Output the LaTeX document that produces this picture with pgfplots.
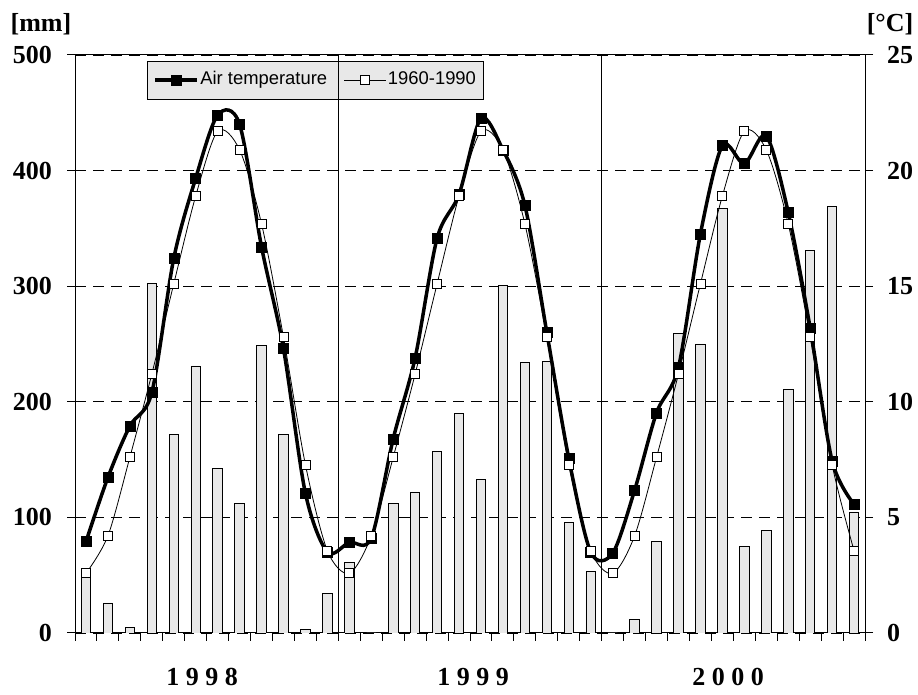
\documentclass[border=0pt]{standalone}
\usepackage{pgfplots}
\usepackage{pgfplotstable}
\pgfplotsset{compat=1.18}
\usepackage{fontspec}
\setmainfont{Liberation Serif}
\newfontfamily\arial{Liberation Sans}
\definecolor{barfill}{gray}{0.91}
\definecolor{legfill}{gray}{0.91}
\newcommand\bigbold{\bfseries\fontsize{26}{30}\selectfont}

% month index, precipitation [mm], air temperature [C], 1960-1990 mean [C]
\pgfplotstableread{
m  rain  air    norm
1  55    3.95   2.58
2  26    6.73   4.2
3  5     8.95   7.6
4  302   10.4   11.2
5  172   16.2   15.1
6  231   19.67  18.9
7  142   22.4   21.7
8  112   22.0   20.9
9  249   16.7   17.7
10 172   12.3   12.8
11 3     6.04   7.28
12 34    3.5    3.56
13 61    3.92   2.58
14 0     4.1    4.2
15 112   8.4    7.6
16 122   11.9   11.2
17 157   17.07  15.1
18 190   18.97  18.9
19 133   22.26  21.7
20 301   20.9   20.9
21 234   18.5   17.7
22 235   13.0   12.8
23 96    7.56   7.28
24 53    3.5    3.56
25 0     3.45   2.58
26 12    6.17   4.2
27 79    9.52   7.6
28 259   11.5   11.2
29 250   17.26  15.1
30 367   21.08  18.9
31 75    20.3   21.7
32 89    21.5   20.9
33 211   18.2   17.7
34 331   13.2   12.8
35 369   7.45   7.28
36 104   5.57   3.56
}\climate

\begin{document}
\begin{tikzpicture}
\path[use as bounding box] (0,0) rectangle (918pt,695pt);

\pgfplotsset{
  frame/.style={
    scale only axis, width=790pt, height=578pt,
    at={(75pt,62pt)}, anchor=south west,
    xmin=0.5, xmax=36.5,
    /pgf/number format/assume math mode=true,
    axis line style={black, line width=1pt},
    tick style={black, line width=1pt},
    tick align=outside,
    major tick length=8pt,
  },
}

% precipitation bars, left axis
\begin{axis}[frame,
  ymin=0, ymax=500,
  ytick={0,100,...,500},
  xtick={0.5,1.5,...,36.5}, xticklabels={},
  xtick pos=left, ytick pos=left,
  yticklabel style={font=\bigbold, anchor=east, inner sep=0pt, xshift=-15pt},
  ymajorgrids,
  major grid style={black, line width=0.8pt, dash pattern=on 11pt off 7pt},
]
\addplot[ybar, bar width=9.5pt, fill=barfill, draw=black, line width=0.8pt]
  table[x=m, y=rain] {\climate};
\end{axis}

% temperature lines, right axis
\begin{axis}[frame,
  ymin=0, ymax=25,
  axis x line=none, axis y line*=right,
  ytick={0,5,...,25},
  yticklabel style={font=\bigbold, anchor=west, inner sep=0pt, xshift=14pt},
  legend columns=2,
  legend style={at={(0.0911,0.9896)}, anchor=north west,
    draw=black, line width=0.8pt, fill=legfill,
    font=\arial\fontsize{18.4}{22}\selectfont,
    inner xsep=6pt, inner ysep=9pt,
    nodes={inner xsep=1.5pt, inner ysep=1pt, text height=13.5pt, text depth=4pt},
    /tikz/every even column/.append style={column sep=15pt}},
  legend image code/.code={
    \draw[#1, mark repeat=2, mark phase=2]
      plot coordinates {(0pt,0pt) (21pt,0pt) (42pt,0pt)};},
]
\addplot[black, line width=3.5pt, smooth, mark=square*, mark size=5pt,
  mark options={solid, line width=0.5pt}]
  table[x=m, y=air] {\climate};
\addlegendentry{Air temperature}
\addplot[black, line width=0.8pt, smooth, mark=square*, mark size=4.5pt,
  mark options={solid, fill=white, line width=0.8pt}]
  table[x=m, y=norm] {\climate};
\addlegendentry{1960-1990}
\end{axis}

% year separators, year names and units
\begin{axis}[frame, ymin=0, ymax=500, hide axis, clip=false]
\draw[black, line width=1pt] (axis cs:12.5,0) -- (axis cs:12.5,500);
\draw[black, line width=1pt] (axis cs:24.5,0) -- (axis cs:24.5,500);
\node[font=\bigbold] at ([yshift=-44pt]axis cs:6.29,0) {1 9 9 8};
\node[font=\bigbold] at ([yshift=-44pt]axis cs:18.64,0) {1 9 9 9};
\node[font=\bigbold] at ([yshift=-44pt]axis cs:30.26,0) {2 0 0 0};
\node[font=\bigbold] at ([xshift=-34pt, yshift=31pt]axis cs:0.5,500) {[mm]};
\node[font=\bigbold] at ([xshift=25pt, yshift=31pt]axis cs:36.5,500) {[°C]};
\end{axis}
\end{tikzpicture}
\end{document}
